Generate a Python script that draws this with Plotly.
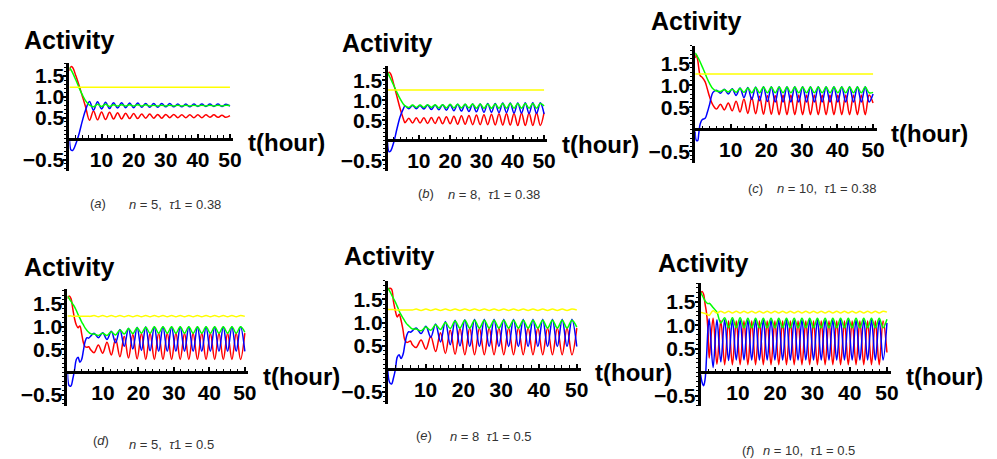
import plotly.graph_objects as go

# ---------------- data ----------------
T_A = [0, 0.5, 1, 2, 3, 4, 5,
       6.25, 7.5, 8.75, 10, 11.25, 12.5, 13.75, 15, 16.25, 17.5,
       18.75, 20, 21.25, 22.5, 23.75, 25, 26.25, 27.5, 28.75, 30,
       31.25, 32.5, 33.75, 35, 36.25, 37.5, 38.75, 40, 41.25, 42.5,
       43.75, 45, 46.25, 47.5, 48.75, 50]
RED_A = [1.62, 1.72, 1.70, 1.50, 1.27, 1.02, 0.77,
         0.44, 0.66, 0.45, 0.64, 0.46, 0.63, 0.47, 0.62, 0.47, 0.61,
         0.48, 0.60, 0.48, 0.59, 0.49, 0.59, 0.49, 0.58, 0.49, 0.58,
         0.50, 0.58, 0.50, 0.57, 0.50, 0.57, 0.50, 0.57, 0.50, 0.57,
         0.51, 0.57, 0.51, 0.56, 0.51, 0.55]
BLUE_A = [-0.02, -0.27, -0.28, -0.12, 0.12, 0.42, 0.68,
          0.89, 0.68, 0.88, 0.71, 0.87, 0.72, 0.86, 0.73, 0.86, 0.74,
          0.85, 0.74, 0.85, 0.75, 0.84, 0.75, 0.84, 0.75, 0.84, 0.76,
          0.84, 0.76, 0.83, 0.76, 0.83, 0.76, 0.83, 0.77, 0.83, 0.77,
          0.83, 0.77, 0.83, 0.77, 0.82, 0.78]
GREEN_A = [1.70, 1.64, 1.57, 1.40, 1.22, 1.05, 0.91,
           0.80, 0.76, 0.82, 0.77, 0.82, 0.77, 0.81, 0.78, 0.81, 0.78,
           0.81, 0.78, 0.81, 0.78, 0.81, 0.78, 0.80, 0.78, 0.80, 0.78,
           0.80, 0.78, 0.80, 0.78, 0.80, 0.78, 0.80, 0.78, 0.80, 0.78,
           0.80, 0.78, 0.80, 0.78, 0.80, 0.79]
YT_A = [0, 50]
YEL_A = [1.23, 1.23]

T_B = [0, 0.5, 1, 2, 3, 4, 5,
       5.6, 6.8, 8.0, 9.2, 10.4, 11.6, 12.8, 14.0, 15.2, 16.4,
       17.6, 18.8, 20.0, 21.2, 22.4, 23.6, 24.8, 26.0, 27.2, 28.4,
       29.6, 30.8, 32.0, 33.2, 34.4, 35.6, 36.8, 38.0, 39.2, 40.4,
       41.6, 42.8, 44.0, 45.2, 46.4, 47.6, 48.8, 50.0]
RED_B = [1.64, 1.70, 1.66, 1.40, 1.10, 0.80, 0.55,
         0.44, 0.55, 0.43, 0.56, 0.43, 0.56, 0.42, 0.57, 0.42, 0.58,
         0.41, 0.59, 0.41, 0.60, 0.40, 0.61, 0.40, 0.62, 0.39, 0.63,
         0.39, 0.64, 0.39, 0.65, 0.38, 0.66, 0.38, 0.67, 0.38, 0.67,
         0.37, 0.68, 0.37, 0.68, 0.37, 0.69, 0.37, 0.69]
BLUE_B = [-0.05, -0.29, -0.27, -0.05, 0.28, 0.58, 0.78,
          0.86, 0.79, 0.87, 0.79, 0.87, 0.78, 0.88, 0.77, 0.88, 0.76,
          0.89, 0.75, 0.89, 0.74, 0.90, 0.73, 0.90, 0.72, 0.91, 0.71,
          0.91, 0.70, 0.92, 0.70, 0.92, 0.69, 0.93, 0.69, 0.93, 0.68,
          0.93, 0.68, 0.94, 0.67, 0.94, 0.67, 0.94, 0.66]
GREEN_B = [1.70, 1.62, 1.54, 1.37, 1.20, 1.04, 0.91,
           0.86, 0.82, 0.88, 0.82, 0.88, 0.82, 0.89, 0.82, 0.89, 0.81,
           0.89, 0.81, 0.90, 0.81, 0.90, 0.81, 0.90, 0.81, 0.91, 0.80,
           0.91, 0.80, 0.91, 0.80, 0.91, 0.80, 0.92, 0.80, 0.92, 0.80,
           0.92, 0.80, 0.92, 0.80, 0.92, 0.80, 0.92, 0.86]
YT_B = [0, 50]
YEL_B = [1.26, 1.26]

T_C = [0, 0.3, 0.7, 1.0, 1.4, 2.0, 2.8, 3.4, 4.0, 5.0,
       6.0, 7.1, 8.2, 9.3, 10.4, 11.5, 12.6, 13.7, 14.8, 15.9,
       17.0, 18.1, 19.2, 20.3, 21.4, 22.5, 23.6, 24.7, 25.8, 26.9,
       28.0, 29.1, 30.2, 31.3, 32.4, 33.5, 34.6, 35.7, 36.8, 37.9,
       39.0, 40.1, 41.2, 42.3, 43.4, 44.5, 45.6, 46.7, 47.8, 48.9,
       50.0]
RED_C = [1.62, 1.70, 1.58, 1.40, 1.22, 1.18, 1.08, 0.92, 0.75, 0.55,
         0.46, 0.57, 0.44, 0.60, 0.42, 0.64, 0.39, 0.69, 0.36, 0.73,
         0.35, 0.75, 0.34, 0.77, 0.34, 0.77, 0.33, 0.78, 0.33, 0.78,
         0.33, 0.78, 0.33, 0.78, 0.33, 0.78, 0.33, 0.78, 0.33, 0.78,
         0.33, 0.78, 0.33, 0.78, 0.33, 0.78, 0.33, 0.78, 0.33, 0.78,
         0.60]
BLUE_C = [-0.05, -0.25, -0.26, -0.10, 0.12, 0.22, 0.25, 0.38, 0.55, 0.84,
          0.89, 0.82, 0.91, 0.80, 0.92, 0.77, 0.94, 0.72, 0.95, 0.68,
          0.96, 0.65, 0.97, 0.63, 0.97, 0.62, 0.97, 0.62, 0.97, 0.62,
          0.97, 0.62, 0.97, 0.62, 0.97, 0.62, 0.97, 0.62, 0.97, 0.62,
          0.97, 0.62, 0.97, 0.62, 0.97, 0.62, 0.97, 0.62, 0.97, 0.62,
          0.80]
GREEN_C = [1.74, 1.70, 1.64, 1.60, 1.53, 1.42, 1.27, 1.15, 1.05, 0.92,
           0.87, 0.86, 0.90, 0.85, 0.91, 0.84, 0.93, 0.84, 0.94, 0.83,
           0.95, 0.83, 0.96, 0.83, 0.96, 0.83, 0.96, 0.83, 0.96, 0.83,
           0.96, 0.83, 0.96, 0.83, 0.96, 0.83, 0.96, 0.83, 0.96, 0.83,
           0.96, 0.83, 0.96, 0.83, 0.96, 0.83, 0.96, 0.83, 0.96, 0.83,
           0.84]
YT_C = [0, 50]
YEL_C = [1.26, 1.26]

T_D = [0, 0.5, 1, 1.5, 2, 2.5, 3, 3.5, 4, 4.5, 5, 5.5, 6, 6.5,
       7.5, 8.71, 9.93, 11.14, 12.36, 13.57, 14.79, 16.0, 17.21, 18.43,
       19.64, 20.86, 22.07, 23.29, 24.5, 25.71, 26.93, 28.14, 29.36, 30.57,
       31.79, 33.0, 34.21, 35.43, 36.64, 37.86, 39.07, 40.29, 41.5, 42.71,
       43.93, 45.14, 46.36, 47.57, 48.79, 50.0]
RED_D = [1.62, 1.68, 1.62, 1.40, 1.18, 1.04, 0.98, 1.02, 0.85, 0.65, 0.56, 0.55, 0.56, 0.50,
         0.43, 0.60, 0.42, 0.66, 0.38, 0.73, 0.34, 0.79, 0.31, 0.83,
         0.29, 0.85, 0.28, 0.86, 0.28, 0.86, 0.28, 0.86, 0.28, 0.86,
         0.28, 0.86, 0.28, 0.86, 0.28, 0.86, 0.28, 0.86, 0.28, 0.86,
         0.28, 0.86, 0.28, 0.86, 0.28, 0.86]
BLUE_D = [-0.02, -0.30, -0.30, -0.15, 0.05, 0.28, 0.33, 0.22, 0.28, 0.48, 0.68, 0.76, 0.75, 0.79,
          0.86, 0.76, 0.87, 0.72, 0.90, 0.65, 0.94, 0.57, 0.97, 0.51,
          0.99, 0.48, 1.00, 0.47, 1.00, 0.46, 1.00, 0.46, 1.00, 0.46,
          1.00, 0.46, 1.00, 0.46, 1.00, 0.46, 1.00, 0.46, 1.00, 0.46,
          1.00, 0.46, 1.00, 0.46, 1.00, 0.46]
GREEN_D = [1.68, 1.62, 1.56, 1.50, 1.44, 1.36, 1.27, 1.19, 1.11, 1.04, 0.97, 0.92, 0.88, 0.85,
           0.84, 0.81, 0.86, 0.81, 0.89, 0.82, 0.93, 0.84, 0.96, 0.85,
           0.98, 0.86, 0.99, 0.86, 1.00, 0.86, 1.00, 0.86, 1.00, 0.86,
           1.00, 0.86, 1.00, 0.86, 1.00, 0.86, 1.00, 0.86, 1.00, 0.86,
           1.00, 0.86, 1.00, 0.86, 1.00, 0.88]
YT_D = T_D
YEL_D = [1.24, 1.24, 1.24, 1.23, 1.23, 1.23, 1.23, 1.23, 1.23, 1.23, 1.23, 1.23, 1.23, 1.23,
         1.25, 1.22, 1.25, 1.22, 1.25, 1.22, 1.25, 1.22, 1.25, 1.22,
         1.25, 1.22, 1.25, 1.22, 1.25, 1.22, 1.25, 1.22, 1.25, 1.22,
         1.25, 1.22, 1.25, 1.22, 1.25, 1.22, 1.25, 1.22, 1.25, 1.22,
         1.25, 1.22, 1.25, 1.22, 1.25, 1.23]

T_E = [0, 0.5, 1, 1.5, 2, 2.5, 3, 3.5, 4, 4.5, 5, 5.5, 6, 6.5,
       7.5, 8.79, 10.08, 11.36, 12.65, 13.94, 15.23, 16.52, 17.8, 19.09,
       20.38, 21.67, 22.95, 24.24, 25.53, 26.82, 28.11, 29.39, 30.68, 31.97,
       33.26, 34.55, 35.83, 37.12, 38.41, 39.7, 40.99, 42.27, 43.56, 44.85,
       46.14, 47.42, 48.71, 50.0]
RED_E = [1.70, 1.74, 1.72, 1.45, 1.25, 1.12, 1.18, 1.05, 0.85, 0.62, 0.57, 0.58, 0.60, 0.52,
         0.46, 0.62, 0.42, 0.70, 0.37, 0.78, 0.33, 0.84, 0.31, 0.87,
         0.30, 0.88, 0.30, 0.88, 0.30, 0.88, 0.30, 0.88, 0.30, 0.88,
         0.30, 0.88, 0.30, 0.88, 0.30, 0.88, 0.30, 0.88, 0.30, 0.88,
         0.30, 0.88, 0.30, 0.88]
BLUE_E = [-0.05, -0.30, -0.33, -0.20, -0.02, 0.25, 0.30, 0.22, 0.30, 0.52, 0.72, 0.80, 0.79, 0.82,
          0.88, 0.76, 0.92, 0.68, 0.97, 0.58, 1.02, 0.52, 1.05, 0.49,
          1.06, 0.48, 1.07, 0.48, 1.07, 0.48, 1.07, 0.48, 1.07, 0.48,
          1.07, 0.48, 1.07, 0.48, 1.07, 0.48, 1.07, 0.48, 1.07, 0.48,
          1.07, 0.48, 1.07, 0.48]
GREEN_E = [1.75, 1.68, 1.60, 1.52, 1.44, 1.35, 1.25, 1.17, 1.10, 1.03, 0.97, 0.93, 0.89, 0.86,
           0.86, 0.82, 0.90, 0.83, 0.95, 0.85, 1.00, 0.87, 1.03, 0.88,
           1.05, 0.88, 1.05, 0.88, 1.05, 0.88, 1.05, 0.88, 1.05, 0.88,
           1.05, 0.88, 1.05, 0.88, 1.05, 0.88, 1.05, 0.88, 1.05, 0.88,
           1.05, 0.88, 1.05, 0.90]
YT_E = T_E
YEL_E = [1.28, 1.28, 1.28, 1.28, 1.27, 1.27, 1.27, 1.27, 1.27, 1.27, 1.27, 1.27, 1.27, 1.27,
         1.29, 1.26, 1.29, 1.26, 1.29, 1.26, 1.29, 1.26, 1.29, 1.26,
         1.29, 1.26, 1.29, 1.26, 1.29, 1.26, 1.29, 1.26, 1.29, 1.26,
         1.29, 1.26, 1.29, 1.26, 1.29, 1.26, 1.29, 1.26, 1.29, 1.26,
         1.29, 1.26, 1.29, 1.27]

T_F = [0, 0.4, 0.8, 1.2, 1.6, 2.0,
       2.30, 3.34, 4.37, 5.41, 6.45, 7.49, 8.52, 9.56, 10.60, 11.63,
       12.67, 13.71, 14.74, 15.78, 16.82, 17.86, 18.89, 19.93, 20.97, 22.00,
       23.04, 24.08, 25.11, 26.15, 27.19, 28.23, 29.26, 30.30, 31.34, 32.37,
       33.41, 34.45, 35.48, 36.52, 37.56, 38.60, 39.63, 40.67, 41.71, 42.74,
       43.78, 44.82, 45.85, 46.89, 47.93, 48.97, 50.00]
RED_F = [1.68, 1.72, 1.66, 1.45, 1.25, 0.85,
         0.30, 1.15, 0.17, 1.10, 0.16, 1.09, 0.16, 1.09, 0.16, 1.09,
         0.16, 1.09, 0.16, 1.09, 0.16, 1.09, 0.16, 1.09, 0.16, 1.09,
         0.16, 1.09, 0.16, 1.09, 0.16, 1.09, 0.16, 1.09, 0.16, 1.09,
         0.16, 1.09, 0.16, 1.09, 0.16, 1.09, 0.16, 1.09, 0.16, 1.09,
         0.16, 1.09, 0.16, 1.09, 0.16, 1.09, 0.42]
BLUE_F = [-0.05, -0.22, -0.29, -0.15, 0.35, 0.95,
          1.14, 0.10, 1.12, 0.22, 1.12, 0.25, 1.12, 0.26, 1.12, 0.26,
          1.12, 0.26, 1.12, 0.26, 1.12, 0.26, 1.12, 0.26, 1.12, 0.26,
          1.12, 0.26, 1.12, 0.26, 1.12, 0.26, 1.12, 0.26, 1.12, 0.26,
          1.12, 0.26, 1.12, 0.26, 1.12, 0.26, 1.12, 0.26, 1.12, 0.26,
          1.12, 0.26, 1.12, 0.26, 1.12, 0.26, 1.05]
GREEN_F = [1.71, 1.64, 1.58, 1.52, 1.48, 1.46,
           1.47, 1.38, 1.28, 1.05, 1.16, 0.95, 1.16, 0.95, 1.16, 0.95,
           1.15, 0.95, 1.15, 0.95, 1.15, 0.95, 1.15, 0.95, 1.15, 0.95,
           1.15, 0.95, 1.15, 0.95, 1.15, 0.95, 1.15, 0.95, 1.15, 0.95,
           1.15, 0.95, 1.15, 0.95, 1.15, 0.95, 1.15, 0.95, 1.15, 0.95,
           1.15, 0.95, 1.15, 0.95, 1.15, 0.95, 1.13]
YT_F = T_F
YEL_F = [1.27, 1.27, 1.26, 1.25, 1.24, 1.22,
         1.21, 1.31, 1.26, 1.30, 1.26, 1.30, 1.26, 1.30, 1.26, 1.30,
         1.26, 1.30, 1.26, 1.30, 1.26, 1.30, 1.26, 1.30, 1.26, 1.30,
         1.26, 1.30, 1.26, 1.30, 1.26, 1.30, 1.26, 1.30, 1.26, 1.30,
         1.26, 1.30, 1.26, 1.30, 1.26, 1.30, 1.26, 1.30, 1.26, 1.30,
         1.26, 1.30, 1.26, 1.30, 1.26, 1.30, 1.28]

PANEL_LABELS = ["(<i>a</i>)", "(<i>b</i>)", "(<i>c</i>)", "(<i>d</i>)", "(<i>e</i>)", "(<i>f</i>)"]
PANEL_PARAMS = ["<i>n</i> = 5,  <i>τ</i>1 = 0.38",
                "<i>n</i> = 8,  <i>τ</i>1 = 0.38",
                "<i>n</i> = 10,  <i>τ</i>1 = 0.38",
                "<i>n</i> = 5,  <i>τ</i>1 = 0.5",
                "<i>n</i> = 8  <i>τ</i>1 = 0.5",
                "<i>n</i> = 10,  <i>τ</i>1 = 0.5"]
Y_TITLE = "Activity"
X_TITLE = "t(hour)"
X_TICKS = [10, 20, 30, 40, 50]
Y_TICKS = [-0.5, 0.5, 1.0, 1.5]
Y_TICK_TEXT = ["−0.5", "0.5", "1.0", "1.5"]

SERIES = [
    (T_A, RED_A, BLUE_A, GREEN_A, YT_A, YEL_A),
    (T_B, RED_B, BLUE_B, GREEN_B, YT_B, YEL_B),
    (T_C, RED_C, BLUE_C, GREEN_C, YT_C, YEL_C),
    (T_D, RED_D, BLUE_D, GREEN_D, YT_D, YEL_D),
    (T_E, RED_E, BLUE_E, GREEN_E, YT_E, YEL_E),
    (T_F, RED_F, BLUE_F, GREEN_F, YT_F, YEL_F),
]

# ---------------- layout geometry (window pixels) ----------------
OFF = 8                      # page body margin of the browser
W, H = 997 - OFF, 459 - OFF  # figure size so the page fits the window
XMAX = 51
GEOM = [
    dict(x0=70, x50=232, y0=139, s=42, ymin=-0.78, ymax=1.80, title=(22, 40), lab=(89, 203.5), txt=(128, 205)),
    dict(x0=391, x50=549, y0=140.5, s=40, ymin=-0.78, ymax=1.85, title=(343, 43), lab=(420, 194), txt=(450, 195)),
    dict(x0=701.5, x50=881, y0=129.5, s=44, ymin=-0.77, ymax=1.90, title=(655, 21), lab=(753, 189), txt=(782, 189)),
    dict(x0=68, x50=247, y0=373, s=45.5, ymin=-0.74, ymax=1.84, title=(22, 268), lab=(92, 441), txt=(128, 445)),
    dict(x0=391.3, x50=582, y0=369.5, s=46.3, ymin=-0.77, ymax=1.90, title=(345, 257), lab=(418, 436), txt=(452, 437)),
    dict(x0=707, x50=895, y0=373, s=47, ymin=-0.72, ymax=1.90, title=(662, 264), lab=(747, 451), txt=(768, 451)),
]


def fx(px):
    return (px - OFF) / W


def fy(py):
    return 1 - (py - OFF) / H


FONT = "Liberation Sans, Arial, Helvetica, sans-serif"
COLORS = dict(red="rgb(255,0,0)", blue="rgb(0,0,255)", green="rgb(0,255,0)", yellow="rgb(255,255,0)")

fig = go.Figure()
layout = dict(width=W, height=H, margin=dict(l=0, r=0, t=0, b=0),
              paper_bgcolor="white", plot_bgcolor="white", showlegend=False,
              font=dict(family=FONT, color="black"))
annotations = []

for i, (g, ser) in enumerate(zip(GEOM, SERIES), start=1):
    sfx = "" if i == 1 else str(i)
    t, red, blue, green, yt, yel = ser
    pxh = (g["x50"] - g["x0"]) / 50.0
    xe = g["x0"] + pxh * XMAX
    py_min = g["y0"] - g["ymin"] * g["s"]
    py_max = g["y0"] - g["ymax"] * g["s"]
    layout["xaxis" + sfx] = dict(
        domain=[fx(g["x0"]), fx(xe)], range=[0, XMAX], anchor="free",
        position=fy(g["y0"]), showline=True, linecolor="black", linewidth=3,
        showgrid=False, zeroline=False, ticks="inside", ticklen=4, tickwidth=1.5,
        tickcolor="black", tickmode="array", tickvals=X_TICKS,
        tickfont=dict(family=FONT, size=21, color="black", weight="bold"),
        ticklabelstandoff=1,
        minor=dict(dtick=2, tick0=0, ticks="inside", ticklen=2.5, tickwidth=1.2, tickcolor="black"),
    )
    layout["yaxis" + sfx] = dict(
        domain=[fy(py_min), fy(py_max)], range=[g["ymin"], g["ymax"]],
        anchor="x" + sfx, showline=True, linecolor="black", linewidth=3,
        showgrid=False, zeroline=False, ticks="outside", ticklen=3, tickwidth=1.5,
        tickcolor="black", tickmode="array", tickvals=Y_TICKS, ticktext=Y_TICK_TEXT,
        tickfont=dict(family=FONT, size=21, color="black", weight="bold"),
        ticklabelstandoff=-5,
        minor=dict(dtick=0.1, tick0=0, ticks="outside", ticklen=2, tickwidth=1.2, tickcolor="black"),
    )
    for vals, tt, col in [(red, t, "red"), (blue, t, "blue"), (green, t, "green"), (yel, yt, "yellow")]:
        fig.add_trace(go.Scatter(
            x=tt, y=vals, mode="lines", xaxis="x" + sfx, yaxis="y" + sfx,
            line=dict(color=COLORS[col], width=1.5, shape="spline", smoothing=1.0),
            hoverinfo="skip", showlegend=False))
    annotations.append(dict(text=Y_TITLE, xref="paper", yref="paper",
                            x=fx(g["title"][0]), y=fy(g["title"][1]),
                            xanchor="left", yanchor="middle", showarrow=False,
                            font=dict(family=FONT, size=25, color="black", weight="bold")))
    annotations.append(dict(text=X_TITLE, xref="paper", yref="paper",
                            x=fx(xe + 13), y=fy(g["y0"] + 4),
                            xanchor="left", yanchor="middle", showarrow=False,
                            font=dict(family=FONT, size=24, color="black", weight="bold")))
    annotations.append(dict(text=PANEL_LABELS[i - 1], xref="paper", yref="paper",
                            x=fx(g["lab"][0]), y=fy(g["lab"][1]),
                            xanchor="left", yanchor="middle", showarrow=False,
                            font=dict(family=FONT, size=13, color="#333333")))
    annotations.append(dict(text=PANEL_PARAMS[i - 1], xref="paper", yref="paper",
                            x=fx(g["txt"][0]), y=fy(g["txt"][1]),
                            xanchor="left", yanchor="middle", showarrow=False,
                            font=dict(family=FONT, size=13, color="#333333")))

layout["annotations"] = annotations
fig.update_layout(**layout)
fig.write_html("out.html")
